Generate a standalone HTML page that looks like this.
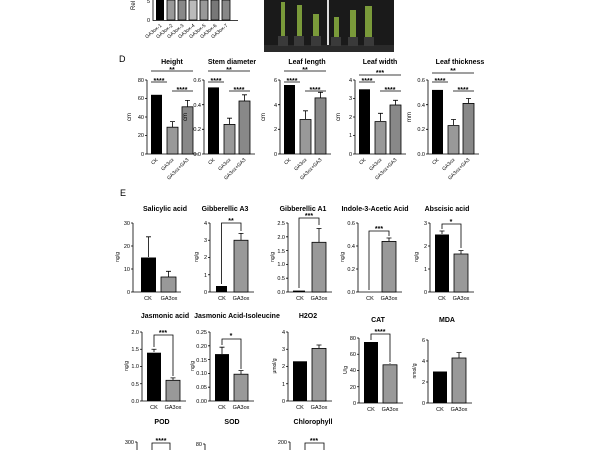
<!DOCTYPE html>
<html><head><meta charset="utf-8"><style>
html,body{margin:0;padding:0;background:#fff;width:600px;height:450px;overflow:hidden}
svg{display:block;font-family:"Liberation Sans",Arial,sans-serif}
.t{font-size:7px;font-weight:bold;text-anchor:middle}
.k{font-size:5.5px;text-anchor:end}
.x{font-size:5.5px;text-anchor:middle}
.a{stroke:#000;stroke-width:0.8;fill:none}
.b{stroke:#000;stroke-width:0.8}
.s{font-size:7px;font-weight:bold;text-anchor:middle}
</style></head><body>
<svg width="600" height="450" viewBox="0 0 600 450">
<text x="135" y="10" font-size="6" transform="rotate(-90 135 10)">Rel</text>
<text x="150" y="22" class="k">0</text><text x="150" y="3" class="k">5</text>
<path class="a" d="M153 0V20.5H238"/>
<rect x="156" y="0" width="8" height="20" fill="#000"/>
<rect x="167" y="0" width="8" height="20" fill="#999" class="b"/>
<rect x="178" y="0" width="8" height="20" fill="#888" class="b"/>
<rect x="189" y="0" width="8" height="20" fill="#bbb" class="b"/>
<rect x="200" y="0" width="8" height="20" fill="#999" class="b"/>
<rect x="211" y="0" width="8" height="20" fill="#777" class="b"/>
<rect x="222" y="0" width="8" height="20" fill="#888" class="b"/>
<g font-size="5" text-anchor="end">
<text transform="translate(162,26) rotate(-40)">GA3ox-1</text>
<text transform="translate(173,26) rotate(-40)">GA3ox-2</text>
<text transform="translate(184,26) rotate(-40)">GA3ox-3</text>
<text transform="translate(195,26) rotate(-40)">GA3ox-4</text>
<text transform="translate(206,26) rotate(-40)">GA3ox-5</text>
<text transform="translate(217,26) rotate(-40)">GA3ox-6</text>
<text transform="translate(228,26) rotate(-40)">GA3ox-7</text>
</g>
<rect x="264" y="0" width="130" height="52" fill="#1a1a1a"/>
<rect x="327" y="0" width="2" height="46" fill="#ddd"/>
<rect x="264" y="45" width="130" height="7" fill="#2a2a2a"/>
<g fill="#7a9a3a">
<rect x="281" y="2" width="4" height="34"/><rect x="297" y="5" width="5" height="31"/>
<rect x="313" y="14" width="6" height="22"/><rect x="334" y="17" width="5" height="20"/>
<rect x="350" y="10" width="6" height="27"/><rect x="365" y="6" width="7" height="31"/>
</g>
<g fill="#3a3a3a"><rect x="278" y="36" width="10" height="10"/><rect x="294" y="36" width="10" height="10"/><rect x="311" y="36" width="10" height="10"/><rect x="331" y="37" width="10" height="9"/><rect x="348" y="37" width="10" height="9"/><rect x="364" y="37" width="10" height="9"/></g>

<text x="119" y="62" font-size="9">D</text>
<g>
<text x="172" y="64" class="t">Height</text>
<path class="a" d="M147 80V154H198M145 80H147M145 98.5H147M145 117H147M145 135.5H147M145 154H147"/>
<text x="144" y="82" class="k">80</text><text x="144" y="100" class="k">60</text><text x="144" y="119" class="k">40</text><text x="144" y="137" class="k">20</text><text x="144" y="156" class="k">0</text>
<text x="131" y="117" font-size="6" transform="rotate(-90 131 117)" text-anchor="middle">cm</text>
<rect x="151" y="94.8" width="11" height="59.2" fill="#000"/>
<rect x="167" y="127.2" width="11" height="26.8" fill="#999" class="b"/>
<rect x="182" y="106.8" width="11" height="47.2" fill="#888" class="b"/>
<path class="a" d="M172.5 127V121.6M170 121.6H175M187.5 107V100.4M185 100.4H190M151 71H193M151 82H167M172 91H193"/>
<text x="172" y="72" class="s">**</text><text x="159" y="83" class="s">****</text><text x="182" y="92" class="s">****</text>
</g>
<g>
<text x="232" y="64" class="t">Stem diameter</text>
<path class="a" d="M204 80V154H255M202 80H204M202 104.7H204M202 129.3H204M202 154H204"/>
<text x="201" y="82" class="k">0.6</text><text x="201" y="107" class="k">0.4</text><text x="201" y="131" class="k">0.2</text><text x="201" y="156" class="k">0.0</text>
<text x="187" y="117" font-size="6" transform="rotate(-90 187 117)" text-anchor="middle">cm</text>
<rect x="208" y="87.4" width="11" height="66.6" fill="#000"/>
<rect x="224" y="124.4" width="11" height="29.6" fill="#999" class="b"/>
<rect x="239" y="101" width="11" height="53" fill="#888" class="b"/>
<path class="a" d="M229.5 124V118.2M227 118.2H232M244.5 101V94.8M242 94.8H247M208 71H250M208 82H224M229 91H250"/>
<text x="229" y="72" class="s">**</text><text x="216" y="83" class="s">****</text><text x="239" y="92" class="s">****</text>
</g>
<g>
<text x="307" y="64" class="t">Leaf length</text>
<path class="a" d="M280 80V154H331M278 80H280M278 104.7H280M278 129.3H280M278 154H280"/>
<text x="277" y="82" class="k">6</text><text x="277" y="107" class="k">4</text><text x="277" y="131" class="k">2</text><text x="277" y="156" class="k">0</text>
<text x="265" y="117" font-size="6" transform="rotate(-90 265 117)" text-anchor="middle">cm</text>
<rect x="284" y="85" width="11" height="69" fill="#000"/>
<rect x="300" y="119.5" width="11" height="34.5" fill="#999" class="b"/>
<rect x="315" y="97.9" width="11" height="56.1" fill="#888" class="b"/>
<path class="a" d="M305.5 119V110.8M303 110.8H308M320.5 98V92.3M318 92.3H323M284 71H326M284 82H300M305 91H326"/>
<text x="305" y="72" class="s">**</text><text x="292" y="83" class="s">****</text><text x="315" y="92" class="s">****</text>
</g>
<g>
<text x="380" y="64" class="t">Leaf width</text>
<path class="a" d="M355 80V154H406M353 80H355M353 98.5H355M353 117H355M353 135.5H355M353 154H355"/>
<text x="352" y="82" class="k">4</text><text x="352" y="100" class="k">3</text><text x="352" y="119" class="k">2</text><text x="352" y="137" class="k">1</text><text x="352" y="156" class="k">0</text>
<text x="340" y="117" font-size="6" transform="rotate(-90 340 117)" text-anchor="middle">cm</text>
<rect x="359" y="89.3" width="11" height="64.7" fill="#000"/>
<rect x="375" y="121.6" width="11" height="32.4" fill="#999" class="b"/>
<rect x="390" y="105" width="11" height="49" fill="#888" class="b"/>
<path class="a" d="M380.5 121V113.3M378 113.3H383M395.5 105V100.3M393 100.3H398M359 75H401M359 82H375M380 91H401"/>
<text x="380" y="75" class="s">***</text><text x="367" y="83" class="s">****</text><text x="390" y="92" class="s">****</text>
</g>
<g>
<text x="460" y="64" class="t">Leaf thickness</text>
<path class="a" d="M428 80V154H479M426 80H428M426 104.7H428M426 129.3H428M426 154H428"/>
<text x="425" y="82" class="k">0.6</text><text x="425" y="107" class="k">0.4</text><text x="425" y="131" class="k">0.2</text><text x="425" y="156" class="k">0.0</text>
<text x="411" y="117" font-size="6" transform="rotate(-90 411 117)" text-anchor="middle">mm</text>
<rect x="432" y="89.9" width="11" height="64.1" fill="#000"/>
<rect x="448" y="125.6" width="11" height="28.4" fill="#999" class="b"/>
<rect x="463" y="103.4" width="11" height="50.6" fill="#888" class="b"/>
<path class="a" d="M453.5 125V119.5M451 119.5H456M468.5 103V98.5M466 98.5H471M432 73H474M432 82H448M453 91H474"/>
<text x="453" y="73" class="s">**</text><text x="440" y="83" class="s">****</text><text x="463" y="92" class="s">****</text>
</g>
<g font-size="5" text-anchor="end">
<text transform="translate(158,160) rotate(-45)">CK</text><text transform="translate(174,160) rotate(-45)">GA3ox</text><text transform="translate(189,160) rotate(-45)">GA3ox+GA3</text>
<text transform="translate(215,160) rotate(-45)">CK</text><text transform="translate(231,160) rotate(-45)">GA3ox</text><text transform="translate(246,160) rotate(-45)">GA3ox+GA3</text>
<text transform="translate(291,160) rotate(-45)">CK</text><text transform="translate(307,160) rotate(-45)">GA3ox</text><text transform="translate(322,160) rotate(-45)">GA3ox+GA3</text>
<text transform="translate(366,160) rotate(-45)">CK</text><text transform="translate(382,160) rotate(-45)">GA3ox</text><text transform="translate(397,160) rotate(-45)">GA3ox+GA3</text>
<text transform="translate(439,160) rotate(-45)">CK</text><text transform="translate(455,160) rotate(-45)">GA3ox</text><text transform="translate(470,160) rotate(-45)">GA3ox+GA3</text>
</g>

<text x="120" y="196" font-size="9">E</text>
<g transform="translate(133,0)">
<text x="32" y="211" class="t" font-size="6">Salicylic acid</text>
<path class="a" d="M0 223V292H48M-2 223H0M-2 246H0M-2 269H0M-2 292H0"/>
<text x="-3" y="225" class="k">30</text><text x="-3" y="248" class="k">20</text><text x="-3" y="271" class="k">10</text><text x="-3" y="294" class="k">0</text>
<text x="-14" y="257" font-size="5" transform="rotate(-90 -14 257)" text-anchor="middle">ng/g</text>
<rect x="8" y="257.5" width="15" height="34.5" fill="#000"/><rect x="28" y="277" width="15" height="15" fill="#999" class="b"/>
<path class="a" d="M15.5 257V236.8M13 236.8H18M35.5 277V271.3M33 271.3H38"/>
<text x="15" y="300" class="x">CK</text><text x="36" y="300" class="x">GA3ox</text>
</g>
<g transform="translate(210,0)">
<text x="15" y="211" class="t" font-size="6">Gibberellic A3</text>
<path class="a" d="M0 223V292H44M-2 223H0M-2 240.25H0M-2 257.5H0M-2 274.75H0M-2 292H0"/>
<text x="-3" y="225" class="k">4</text><text x="-3" y="242" class="k">3</text><text x="-3" y="259" class="k">2</text><text x="-3" y="277" class="k">1</text><text x="-3" y="294" class="k">0</text>
<text x="-12" y="257" font-size="5" transform="rotate(-90 -12 257)" text-anchor="middle">ng/g</text>
<rect x="6" y="286" width="11" height="6" fill="#000"/><rect x="24" y="240.25" width="14" height="51.75" fill="#999" class="b"/>
<path class="a" d="M31 240V233.35M28.5 233.35H33.5M11.5 284V223H31V231"/>
<text x="21" y="223" class="s">**</text>
<text x="12" y="300" class="x">CK</text><text x="31" y="300" class="x">GA3ox</text>
</g>
<g transform="translate(288,0)">
<text x="15" y="211" class="t" font-size="6">Gibberellic A1</text>
<path class="a" d="M0 223V292H44M-2 223H0M-2 236.8H0M-2 250.6H0M-2 264.4H0M-2 278.2H0M-2 292H0"/>
<text x="-3" y="225" class="k">2.5</text><text x="-3" y="239" class="k">2.0</text><text x="-3" y="253" class="k">1.5</text><text x="-3" y="266" class="k">1.0</text><text x="-3" y="280" class="k">0.5</text><text x="-3" y="294" class="k">0.0</text>
<text x="-14" y="257" font-size="5" transform="rotate(-90 -14 257)" text-anchor="middle">ng/g</text>
<rect x="5" y="290.6" width="12" height="1.4" fill="#000"/><rect x="24" y="242.3" width="14" height="49.7" fill="#999" class="b"/>
<path class="a" d="M31 242V228.5M28.5 228.5H33.5M11 288V218H31V225"/>
<text x="21" y="218" class="s">***</text>
<text x="12" y="300" class="x">CK</text><text x="31" y="300" class="x">GA3ox</text>
</g>
<g transform="translate(358,0)">
<text x="17" y="211" class="t" font-size="6">Indole-3-Acetic Acid</text>
<path class="a" d="M0 223V292H44M-2 223H0M-2 246H0M-2 269H0M-2 292H0"/>
<text x="-3" y="225" class="k">0.6</text><text x="-3" y="248" class="k">0.4</text><text x="-3" y="271" class="k">0.2</text><text x="-3" y="294" class="k">0.0</text>
<text x="-14" y="257" font-size="5" transform="rotate(-90 -14 257)" text-anchor="middle">ng/g</text>
<rect x="24" y="241.4" width="14" height="50.6" fill="#999" class="b"/>
<path class="a" d="M31 241V238M28.5 238H33.5M11 290V231H31V236"/>
<text x="21" y="231" class="s">***</text>
<text x="12" y="300" class="x">CK</text><text x="31" y="300" class="x">GA3ox</text>
</g>
<g transform="translate(430,0)">
<text x="17" y="211" class="t" font-size="6">Abscisic acid</text>
<path class="a" d="M0 223V292H44M-2 223H0M-2 246H0M-2 269H0M-2 292H0"/>
<text x="-3" y="225" class="k">3</text><text x="-3" y="248" class="k">2</text><text x="-3" y="271" class="k">1</text><text x="-3" y="294" class="k">0</text>
<text x="-12" y="257" font-size="5" transform="rotate(-90 -12 257)" text-anchor="middle">ng/g</text>
<rect x="5" y="234.5" width="14" height="57.5" fill="#000"/><rect x="24" y="254" width="14" height="38" fill="#999" class="b"/>
<path class="a" d="M12 234V231M9.5 231H14.5M31 254V250.6M28.5 250.6H33.5M12 229V224H31V248"/>
<text x="21" y="224" class="s">*</text>
<text x="12" y="300" class="x">CK</text><text x="31" y="300" class="x">GA3ox</text>
</g>
<g transform="translate(142,0)">
<text x="23" y="318" class="t" font-size="5.5">Jasmonic acid</text>
<path class="a" d="M0 332V401H44M-2 332H0M-2 349.25H0M-2 366.5H0M-2 383.75H0M-2 401H0"/>
<text x="-3" y="334" class="k">2.0</text><text x="-3" y="351" class="k">1.5</text><text x="-3" y="368" class="k">1.0</text><text x="-3" y="386" class="k">0.5</text><text x="-3" y="403" class="k">0.0</text>
<text x="-14" y="366" font-size="5" transform="rotate(-90 -14 366)" text-anchor="middle">ng/g</text>
<rect x="5" y="352.7" width="14" height="48.3" fill="#000"/><rect x="24" y="380.3" width="14" height="20.7" fill="#999" class="b"/>
<path class="a" d="M12 352V349.25M9.5 349.25H14.5M31 380V377.9M28.5 377.9H33.5M12 347V335H31V376"/>
<text x="21" y="335" class="s">***</text>
<text x="12" y="409" class="x">CK</text><text x="31" y="409" class="x">GA3ox</text>
</g>
<g transform="translate(210,0)">
<text x="27" y="318" class="t" font-size="5.5">Jasmonic Acid-Isoleucine</text>
<path class="a" d="M0 332V401H44M-2 332H0M-2 345.8H0M-2 359.6H0M-2 373.4H0M-2 387.2H0M-2 401H0"/>
<text x="-3" y="334" class="k">0.25</text><text x="-3" y="348" class="k">0.20</text><text x="-3" y="362" class="k">0.15</text><text x="-3" y="375" class="k">0.10</text><text x="-3" y="389" class="k">0.05</text><text x="-3" y="403" class="k">0.00</text>
<text x="-16" y="366" font-size="5" transform="rotate(-90 -16 366)" text-anchor="middle">ng/g</text>
<rect x="5" y="354.1" width="14" height="46.9" fill="#000"/><rect x="24" y="374.2" width="14" height="26.8" fill="#999" class="b"/>
<path class="a" d="M12 354V347.2M9.5 347.2H14.5M31 374V370.6M28.5 370.6H33.5M12 345V339H31V369"/>
<text x="21" y="338" class="s">*</text>
<text x="12" y="409" class="x">CK</text><text x="31" y="409" class="x">GA3ox</text>
</g>
<g transform="translate(288,0)">
<text x="20" y="318" class="t" font-size="6">H2O2</text>
<path class="a" d="M0 332V401H44M-2 332H0M-2 349.25H0M-2 366.5H0M-2 383.75H0M-2 401H0"/>
<text x="-3" y="334" class="k">4</text><text x="-3" y="351" class="k">3</text><text x="-3" y="368" class="k">2</text><text x="-3" y="386" class="k">1</text><text x="-3" y="403" class="k">0</text>
<text x="-12" y="366" font-size="5" transform="rotate(-90 -12 366)" text-anchor="middle">μmol/g</text>
<rect x="5" y="361.3" width="14" height="39.7" fill="#000"/><rect x="24" y="348.4" width="14" height="52.6" fill="#999" class="b"/>
<path class="a" d="M31 348V345M28.5 345H33.5"/>
<text x="12" y="409" class="x">CK</text><text x="31" y="409" class="x">GA3ox</text>
</g>
<g transform="translate(359,0)">
<text x="19" y="322" class="t" font-size="6">CAT</text>
<path class="a" d="M0 338V403H44M-2 338H0M-2 354.25H0M-2 370.5H0M-2 386.75H0M-2 403H0"/>
<text x="-3" y="340" class="k">80</text><text x="-3" y="356" class="k">60</text><text x="-3" y="372" class="k">40</text><text x="-3" y="389" class="k">20</text><text x="-3" y="405" class="k">0</text>
<text x="-12" y="370" font-size="5" transform="rotate(-90 -12 370)" text-anchor="middle">U/g</text>
<rect x="5" y="342" width="14" height="61" fill="#000"/><rect x="24" y="364.8" width="14" height="38.2" fill="#999" class="b"/>
<path class="a" d="M31 364V363.2M12 340V334H31V362"/>
<text x="21" y="334" class="s">****</text>
<text x="12" y="411" class="x">CK</text><text x="31" y="411" class="x">GA3ox</text>
</g>
<g transform="translate(428,0)">
<text x="19" y="322" class="t" font-size="6">MDA</text>
<path class="a" d="M0 340V403H44M-2 340H0M-2 361H0M-2 382H0M-2 403H0"/>
<text x="-3" y="342" class="k">6</text><text x="-3" y="363" class="k">4</text><text x="-3" y="384" class="k">2</text><text x="-3" y="405" class="k">0</text>
<text x="-12" y="371" font-size="5" transform="rotate(-90 -12 371)" text-anchor="middle">nmol/g</text>
<rect x="5" y="371.5" width="14" height="31.5" fill="#000"/><rect x="24" y="358" width="14" height="45" fill="#999" class="b"/>
<path class="a" d="M31 358V352.6M28.5 352.6H33.5"/>
<text x="12" y="411" class="x">CK</text><text x="31" y="411" class="x">GA3ox</text>
</g>
<text x="162" y="424" class="t" font-size="6">POD</text>
<text x="232" y="424" class="t" font-size="6">SOD</text>
<text x="313" y="424" class="t">Chlorophyll</text>
<path class="a" d="M137 442V450M135 442H137M205 444V450M203 444H205M290 442V450M288 442H290M152 452V443H170V452M305 452V443H324V452"/>
<text x="134" y="444" class="k">300</text><text x="202" y="446" class="k">80</text><text x="287" y="444" class="k">200</text>
<text x="161" y="443" class="s">****</text><text x="314" y="443" class="s">***</text>
</svg>
</body></html>
